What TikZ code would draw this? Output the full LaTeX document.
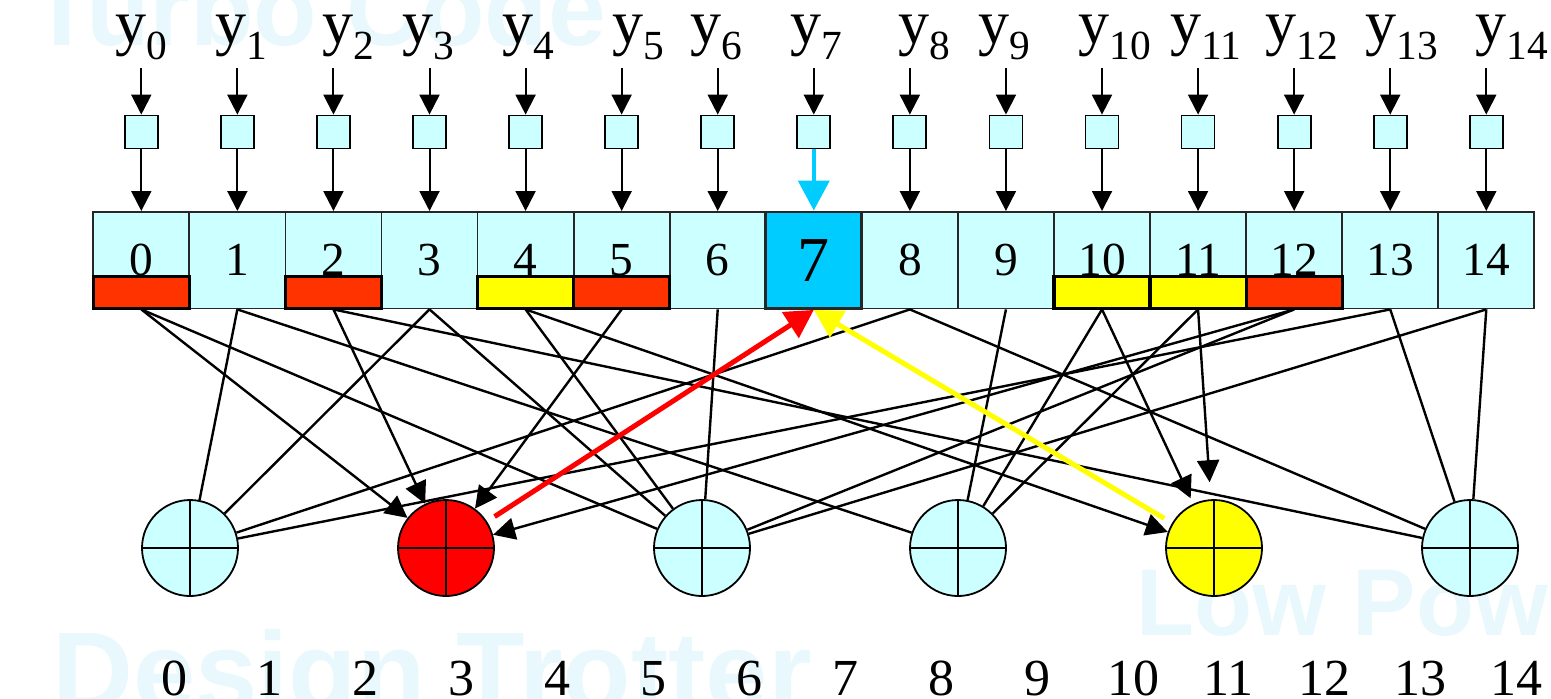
\documentclass[tikz,border=0pt]{standalone}
\usepackage{fontspec}
\setmainfont{Liberation Serif}
\newfontfamily\markfont{Liberation Sans}
\usetikzlibrary{arrows.meta}

\definecolor{cellcyan}{HTML}{CCFFFF}
\definecolor{hotcyan}{HTML}{00CCFF}
\definecolor{barred}{HTML}{FF3300}
\definecolor{baryellow}{HTML}{FFFF00}
\definecolor{nodered}{HTML}{FF0000}
\definecolor{markcyan}{RGB}{232,248,253}

% subscripted input label y_n
\newcommand{\inlabel}[1]{y\raisebox{-8.2pt}{\fontsize{20.7}{22}\selectfont #1}}

\tikzset{
  cellbox/.style={draw=black!85, line width=0.9pt, fill=cellcyan,
    minimum width=48.035pt, minimum height=48.3pt, inner sep=0pt,
    font=\fontsize{23.7}{26}\selectfont},
  regbox/.style={draw=black, line width=0.9pt, fill=cellcyan,
    minimum size=16.5pt, inner sep=0pt},
  flagred/.style={draw=black, line width=1.6pt, fill=barred},
  flagyellow/.style={draw=black, line width=1.6pt, fill=baryellow},
  xornode/.style={circle, draw=black, line width=0.9pt, fill=cellcyan,
    minimum size=48pt, inner sep=0pt,
    path picture={\draw[line width=0.9pt]
      (path picture bounding box.north) -- (path picture bounding box.south)
      (path picture bounding box.west) -- (path picture bounding box.east);}},
  inlab/.style={anchor=base west, inner sep=0pt, font=\fontsize{31}{34}\selectfont},
  outlab/.style={anchor=base, inner sep=0pt, font=\fontsize{26}{30}\selectfont},
  watermark/.style={anchor=base west, inner sep=0pt, text=markcyan},
  feed/.style={line width=1pt, -{Triangle[length=10pt,width=10pt]}},
  hotfeed/.style={line width=2.1pt, hotcyan, -{Triangle[length=15pt,width=15.5pt]}},
  wire/.style={line width=1.2pt},
  inwire/.style={line width=1.2pt, -{Triangle[length=11pt,width=11pt]}},
  redpath/.style={line width=2.5pt, nodered, shorten <=4.5pt, -{Triangle[length=14pt,width=15pt]}},
  yellowpath/.style={line width=2.5pt, baryellow, shorten <=4.5pt, -{Triangle[length=14pt,width=15pt]}},
}

\begin{document}
\begin{tikzpicture}[x=0.5pt, y=-0.5pt]
\useasboundingbox (0,0) rectangle (1551,698);

% pale background lettering
\begin{scope}
  \clip (0,0) rectangle (1551,698);
  \node[watermark, font=\markfont\bfseries\fontsize{52}{56}\selectfont] (wm1) at (30, 45) {Turbo Code};
  \node[watermark, font=\markfont\bfseries\fontsize{47.5}{52}\selectfont] (wm2) at (1136, 635) {Low Power};
  \node[watermark, font=\markfont\bfseries\fontsize{56}{60}\selectfont] (wm3) at (52, 710) {Design Trotter};
\end{scope}

% memory cells
\foreach \i in {0,...,6,8,9,10,11,12,13,14} {
  \node[cellbox] (c\i) at ({141.3+96.07*\i}, 260.2) {\i};
}
\node[cellbox, fill=hotcyan, line width=1.4pt, font=\fontsize{32}{34}\selectfont] (c7) at ({141.3+96.07*7}, 260.2) {7};

% flag bars at the bottom of the cells
\foreach \i in {0,2,5,12} {
  \draw[flagred] ({93.3+96.07*\i}, 276.2) rectangle ++(96.07, 32.3);
}
\foreach \i in {4,10,11} {
  \draw[flagyellow] ({93.3+96.07*\i}, 276.2) rectangle ++(96.07, 32.3);
}

% inputs, registers and feeds
\foreach \i/\lx in {0/115,1/215,2/322,3/402,4/502,5/612,6/690,7/790,8/898,9/978,10/1078,11/1170,12/1265,13/1365,14/1475} {
  \node[inlab] (y\i) at (\lx, 43) {\inlabel{\i}};
  \coordinate (t\i) at ({141.3+96.07*\i}, 68);
  \node[regbox] (r\i) at ({141.3+96.07*\i}, 132) {};
  \draw[feed] (t\i) -- (r\i.north);
}
\foreach \i in {0,...,6,8,9,10,11,12,13,14} {
  \draw[feed] (r\i.south) -- (c\i.north);
}
\draw[hotfeed] (r7.south) -- (c7.north);

% check nodes
\node[xornode] (p0) at (190, 548) {};
\node[xornode, fill=nodered] (p1) at (446, 548) {};
\node[xornode] (p2) at (702, 548) {};
\node[xornode] (p3) at (958, 548) {};
\node[xornode, fill=baryellow] (p4) at (1214, 548) {};
\node[xornode] (p5) at (1470, 548) {};

% plain connections
\foreach \i in {1,3,8,13} { \draw[wire] (c\i.south) -- (p0); }
\foreach \i in {0,3,4,6,12,14} { \draw[wire] (c\i.south) -- (p2); }
\foreach \i in {1,9,10,11} { \draw[wire] (c\i.south) -- (p3); }
\foreach \i in {2,8,13,14} { \draw[wire] (c\i.south) -- (p5); }

% directed connections into the highlighted nodes
\foreach \i in {0,2,5,12} { \draw[inwire] (c\i.south) -- (p1); }
\draw[inwire] (c4.south) -- (p4);
\draw[inwire, shorten >=3pt] (c10.south) -- (p4);
\draw[inwire, shorten >=8.5pt] (c11.south) -- (p4);

% results written back to cell 7
\draw[redpath] (p1) -- (c7.south);
\draw[yellowpath] (p4) -- (c7.south);

% output indices
\foreach \i in {0,...,14} {
  \node[outlab] (o\i) at ({174+95.9*\i}, 695) {\i};
}
\end{tikzpicture}
\end{document}
